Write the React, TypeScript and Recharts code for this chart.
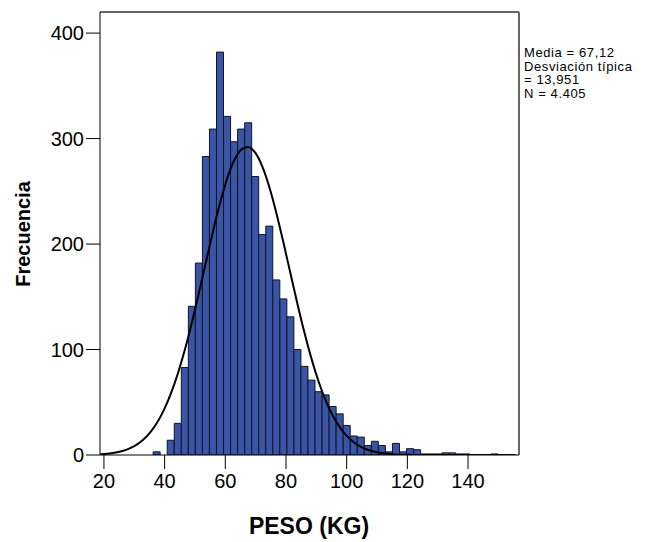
import { ComposedChart, Bar, Line, XAxis, YAxis, ReferenceLine } from 'recharts';

// histogram bins (kg)
const binStart = 36.22;
const binWidth = 2.32;
const counts = [
  3, 0, 14, 30, 83, 141, 182, 283, 309, 382, 321, 297, 309, 315, 264, 209, 217,
  166, 148, 131, 100, 84, 71, 60, 57, 46, 39, 28, 18, 17, 9, 13, 9, 3, 11, 3, 6,
  5, 1, 1, 1, 2, 2, 1, 1, 0, 0, 0, 1,
];

// summary stats shown at the right
const mean = 67.12;
const sd = 13.951;
const total = 4405;

const xTicks = [20, 40, 60, 80, 100, 120, 140];
const yTicks = [0, 100, 200, 300, 400];
const xDomain = [18.7, 156.8];
const yDomain = [0, 420];

// bins before/after the data, only used so the normal curve spans the whole axis
const extraBefore = 8;
const extraAfter = 3;

const data: { x: number; count: number | null; normal: number }[] = [];
for (let i = -extraBefore; i < counts.length + extraAfter; i++) {
  const x = binStart + (i + 0.5) * binWidth;
  const z = (x - mean) / sd;
  data.push({
    x,
    count: i >= 0 && i < counts.length ? counts[i] : null,
    normal: ((total * binWidth) / (sd * Math.sqrt(2 * Math.PI))) * Math.exp(-(z * z) / 2),
  });
}

const font = '"Liberation Sans", Arial, sans-serif';

const App = () => {
  return (
    <div style={{ position: 'absolute', left: 0, top: 0, width: 667, height: 542, background: '#fff', fontFamily: font }}>
      <ComposedChart
        width={667}
        height={542}
        data={data}
        margin={{ top: 12, right: 148, bottom: 47, left: 0 }}
        barCategoryGap={0}
        barGap={0}
      >
        <XAxis
          dataKey="x"
          type="number"
          domain={xDomain}
          ticks={xTicks}
          allowDataOverflow
          height={40}
          tickSize={14}
          tickMargin={5}
          interval={0}
          stroke="#000"
          tick={{ fill: '#000', fontSize: 20, fontFamily: font }}
        />
        <YAxis
          type="number"
          domain={yDomain}
          ticks={yTicks}
          allowDataOverflow
          width={100}
          tickSize={14}
          tickMargin={2}
          interval={0}
          stroke="#000"
          tick={{ fill: '#000', fontSize: 20, fontFamily: font }}
        />
        {/* frame: top and right edges */}
        <ReferenceLine y={yDomain[1]} stroke="#666" strokeWidth={2} />
        <ReferenceLine x={xDomain[1]} stroke="#666" strokeWidth={2} />
        <Bar dataKey="count" fill="#3b55a6" stroke="#111428" strokeWidth={1} isAnimationActive={false} />
        <Line
          dataKey="normal"
          type="monotone"
          stroke="#000"
          strokeWidth={2}
          dot={false}
          activeDot={false}
          isAnimationActive={false}
        />
      </ComposedChart>

      <div
        style={{
          position: 'absolute',
          left: 23,
          top: 234,
          transform: 'translate(-50%, -50%) rotate(-90deg)',
          fontSize: 20,
          fontWeight: 'bold',
          whiteSpace: 'nowrap',
        }}
      >
        Frecuencia
      </div>
      <div
        style={{
          position: 'absolute',
          left: 309,
          top: 526,
          transform: 'translate(-50%, -50%)',
          fontSize: 23,
          fontWeight: 'bold',
          whiteSpace: 'nowrap',
        }}
      >
        PESO (KG)
      </div>
      <div style={{ position: 'absolute', left: 524, top: 46, fontSize: 13, lineHeight: '13.5px', letterSpacing: 0.6 }}>
        <div>Media = 67,12</div>
        <div>Desviación típica</div>
        <div>= 13,951</div>
        <div>N = 4.405</div>
      </div>
    </div>
  );
};

export default App;
